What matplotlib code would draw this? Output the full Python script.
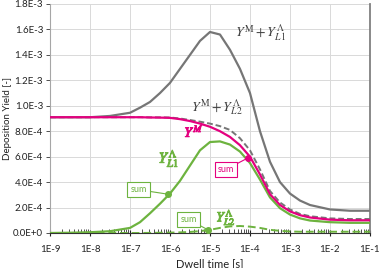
import numpy as np
import matplotlib
matplotlib.use('Agg')
import matplotlib.pyplot as plt
import matplotlib.patheffects as pe
from matplotlib.ticker import FixedLocator, FuncFormatter, LogLocator, NullFormatter

plt.rcParams['font.family'] = ['Lato', 'DejaVu Sans']
plt.rcParams['mathtext.fontset'] = 'stix'

# dwell time exponents (s)
log_t = [-9, -8.5, -8, -7.5, -7, -6.75, -6.5, -6.25, -6, -5.75, -5.5, -5.25, -5,
         -4.75, -4.5, -4.25, -4, -3.75, -3.5, -3.25, -3, -2.75, -2.5, -2, -1.5, -1]

# deposition yields, in units of 1E-4
y_m = [9.1, 9.1, 9.1, 9.1, 9.1, 9.1, 9.08, 9.07, 9.05, 8.95, 8.8, 8.6, 8.35,
       8.0, 7.55, 6.9, 6.0, 4.6, 3.05, 2.2, 1.7, 1.4, 1.22, 1.05, 1.0, 1.0]
y_l1 = [0.0, 0.02, 0.06, 0.14, 0.4, 0.85, 1.55, 2.3, 3.1, 4.1, 5.3, 6.5, 7.15,
        7.2, 6.95, 6.4, 5.5, 4.2, 2.8, 1.95, 1.45, 1.15, 0.98, 0.85, 0.8, 0.8]
y_l2 = [0.0, 0.0, 0.0, 0.0, 0.0, 0.0, 0.01, 0.02, 0.03, 0.05, 0.08, 0.15, 0.25,
        0.4, 0.52, 0.55, 0.5, 0.4, 0.25, 0.17, 0.12, 0.1, 0.1, 0.1, 0.1, 0.1]
y_m_l1 = [9.1, 9.1, 9.1, 9.2, 9.45, 9.85, 10.3, 11.0, 11.8, 12.9, 14.0, 15.1, 15.8,
          15.6, 14.4, 12.9, 11.0, 8.0, 5.6, 4.0, 3.1, 2.55, 2.2, 1.85, 1.75, 1.75]
y_m_l2 = [9.1, 9.1, 9.1, 9.1, 9.1, 9.1, 9.09, 9.09, 9.08, 9.0, 8.88, 8.75, 8.6,
          8.4, 8.1, 7.45, 6.5, 5.0, 3.3, 2.4, 1.85, 1.5, 1.32, 1.15, 1.1, 1.1]

x_ticks = [-9, -8, -7, -6, -5, -4, -3, -2, -1]
y_ticks = [0, 2, 4, 6, 8, 10, 12, 14, 16, 18]

grey = '#767676'
magenta = '#e4007f'
green = '#6db33f'

t = 10.0 ** np.array(log_t)
sc = 1e-4

fig = plt.figure(figsize=(3.8, 2.68), dpi=100)
ax = fig.add_axes([0.1316, 0.1306, 0.842, 0.8545])

ax.plot(t, np.array(y_l2) * sc, color=green, lw=1.4, ls=(0, (4, 2)), zorder=3)
ax.plot(t, np.array(y_l1) * sc, color=green, lw=1.6, zorder=4)
ax.plot(t, np.array(y_m_l2) * sc, color=grey, lw=1.4, ls=(0, (3, 1.5)), zorder=5)
ax.plot(t, np.array(y_m) * sc, color=magenta, lw=1.6, zorder=6)
ax.plot(t, np.array(y_m_l1) * sc, color=grey, lw=1.6, zorder=5)

ax.set_xscale('log')
ax.set_xlim(1e-9, 1e-1)
ax.set_ylim(0, 1.8e-3)

ax.xaxis.set_major_locator(FixedLocator([10.0 ** e for e in x_ticks]))
ax.xaxis.set_major_formatter(FuncFormatter(lambda v, p: '1E%d' % round(np.log10(v))))
ax.xaxis.set_minor_locator(LogLocator(base=10, subs=np.arange(2, 10), numticks=20))
ax.xaxis.set_minor_formatter(NullFormatter())


def yfmt(v, p):
    if v == 0:
        return '0.0E+0'
    e = int(np.floor(np.log10(abs(v)) + 1e-9))
    return '%.1fE%d' % (v / 10 ** e, e)


ax.yaxis.set_major_locator(FixedLocator([v * sc for v in y_ticks]))
ax.yaxis.set_major_formatter(FuncFormatter(yfmt))

ax.tick_params(axis='x', which='major', direction='inout', length=5, width=0.8,
               labelsize=7, colors='#222222', pad=6)
ax.tick_params(axis='x', which='minor', direction='in', length=3, width=0.6, colors='#333333')
ax.tick_params(axis='y', which='major', direction='out', length=3, width=0.6, pad=2,
               labelsize=7, colors='#333333', labelcolor='#222222')

ax.grid(True, which='major', color='#d9d9d9', lw=0.7)
ax.set_axisbelow(True)

ax.spines['top'].set_visible(False)
ax.spines['left'].set_color('#a6a6a6')
ax.spines['bottom'].set_color('#333333')
ax.spines['bottom'].set_linewidth(0.8)
ax.spines['right'].set_color('#808080')
ax.spines['right'].set_linewidth(1.3)

ax.set_xlabel('Dwell time [s]', fontsize=8, color='#222222', labelpad=3)
ax.set_ylabel('Deposition Yield [-]', fontsize=7, color='#222222', labelpad=1)

bold = lambda c: [pe.withStroke(linewidth=0.7, foreground=c)]

ax.text(10 ** -3.73, 1.57e-3, r'$Y^{\mathrm{M}}+Y_{L1}^{\Lambda}$', color='#404040',
        fontsize=10, ha='center', va='center')
ax.text(10 ** -4.83, 0.99e-3, r'$Y^{\mathrm{M}}+Y_{L2}^{\Lambda}$', color='#404040',
        fontsize=10, ha='center', va='center')
ax.text(10 ** -5.4, 0.8e-3, r'$Y^{M}$', color=magenta,
        fontsize=10, ha='center', va='center', path_effects=bold(magenta))
ax.text(10 ** -6.03, 0.585e-3, r'$Y_{L1}^{\Lambda}$', color=green,
        fontsize=11, ha='center', va='center', path_effects=bold(green))
ax.text(10 ** -4.6, 0.125e-3, r'$Y_{L2}^{\Lambda}$', color=green,
        fontsize=10, ha='center', va='center', path_effects=bold(green))

# "sum" callouts
callouts = [
    (10 ** -6.05, 3.05e-4, 10 ** -6.78, 3.4e-4, green),
    (10 ** -4.05, 5.9e-4, 10 ** -4.6, 5.0e-4, magenta),
    (10 ** -5.05, 0.25e-4, 10 ** -5.53, 1.05e-4, green),
]
for px, py, bx, by, c in callouts:
    ax.plot([px], [py], 'o', color=c, ms=4, zorder=8)
    ax.annotate('sum', xy=(px, py), xytext=(bx, by), fontsize=6.5, color=c,
                ha='center', va='center', zorder=9,
                bbox=dict(boxstyle='square,pad=0.35', fc='white', ec=c, lw=0.8),
                arrowprops=dict(arrowstyle='-', color=c, lw=0.8, shrinkA=0, shrinkB=0))

fig.savefig('out.png', dpi=100)
